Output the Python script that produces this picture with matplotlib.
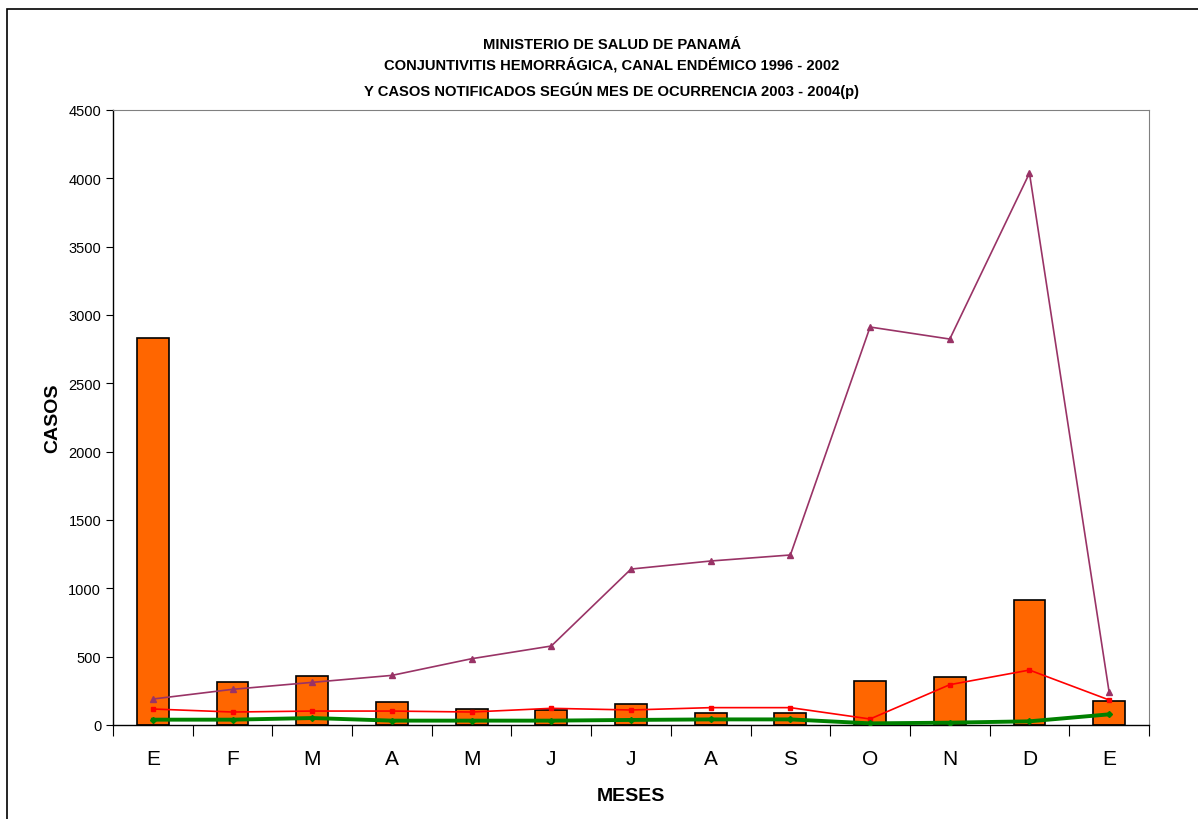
import matplotlib
matplotlib.use("Agg")
import matplotlib.pyplot as plt
from matplotlib.patches import Rectangle

plt.rcParams['font.family'] = ['Liberation Sans', 'DejaVu Sans']

# datos
meses = ['E', 'F', 'M', 'A', 'M', 'J', 'J', 'A', 'S', 'O', 'N', 'D', 'E']
casos_barras = [2831, 315, 361, 168, 115, 107, 151, 90, 88, 324, 353, 914, 178]
linea_morada = [190, 261, 312, 363, 485, 578, 1141, 1200, 1244, 2912, 2824, 4038, 239]
linea_roja = [117, 95, 102, 102, 95, 122, 110, 127, 127, 44, 295, 402, 183]
linea_verde = [39, 39, 51, 32, 32, 32, 37, 41, 41, 12, 17, 27, 78]

fig = plt.figure(figsize=(11.98, 8.2), dpi=100)
ax = fig.add_axes([113/1198, 1 - 726/820, (1149-113)/1198, (726-111)/820])

x = list(range(len(meses)))
ax.bar(x, casos_barras, width=0.4, color='#FF6600', edgecolor='black', linewidth=1.2, zorder=2)
ax.plot(x, linea_morada, color='#993366', marker='^', markersize=4, linewidth=1.2, zorder=3)
ax.plot(x, linea_roja, color='#FF0000', marker='s', markersize=3.5, linewidth=1.2, zorder=4)
ax.plot(x, linea_verde, color='#008000', marker='D', markersize=3, linewidth=2.8, zorder=5)

ax.set_xlim(-0.5, len(meses) - 0.5)
ax.set_ylim(0, 4500)
ax.set_yticks(range(0, 4501, 500))
ax.tick_params(axis='y', labelsize=10.5, direction='out', length=5, width=0.8)

# ticks del eje x entre categorias
ax.set_xticks([i - 0.5 for i in range(len(meses) + 1)])
ax.set_xticklabels([])
ax.set_xticks(x, minor=True)
ax.set_xticklabels(meses, minor=True, fontsize=15)
ax.tick_params(axis='x', which='major', direction='out', length=8, width=0.8)
ax.tick_params(axis='x', which='minor', length=0, pad=17)

ax.spines['top'].set_color('#808080')
ax.spines['right'].set_color('#808080')
ax.spines['left'].set_linewidth(1.0)
ax.spines['bottom'].set_linewidth(1.0)

ax.set_ylabel('CASOS', fontsize=14, fontweight='bold', labelpad=5)
ax.set_xlabel('MESES', fontsize=14, fontweight='bold', labelpad=14)

titulos = [('MINISTERIO DE SALUD DE PANAMÁ', 45),
           ('CONJUNTIVITIS HEMORRÁGICA, CANAL ENDÉMICO 1996 - 2002', 65),
           ('Y CASOS NOTIFICADOS SEGÚN MES DE OCURRENCIA 2003 - 2004(p)', 91)]
for texto, y in titulos:
    fig.text(612/1198, 1 - y/820, texto, ha='center', va='center', fontsize=10.6, fontweight='bold')

# marco exterior
fig.patches.append(Rectangle((7/1198, -0.1), 1.2, 1 - 10/820 + 0.1, transform=fig.transFigure,
                             fill=False, edgecolor='black', linewidth=1.2))

fig.savefig('out.png', dpi=100)
